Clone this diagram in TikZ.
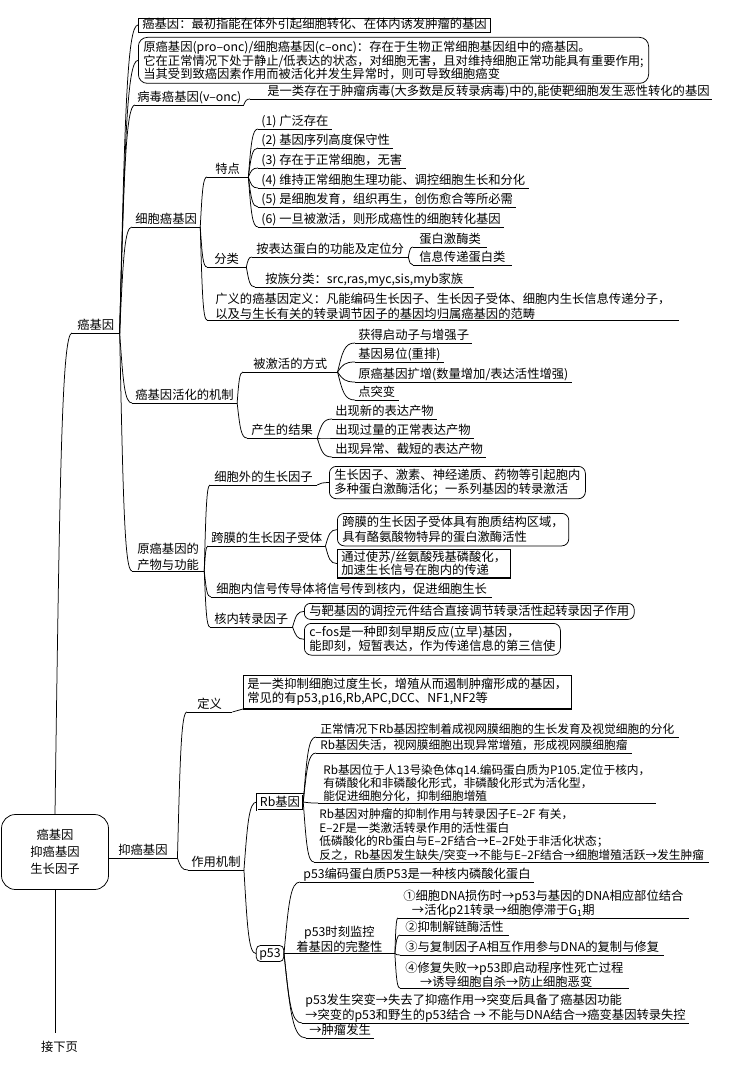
\documentclass[tikz,border=0pt]{standalone}
\usepackage{fontspec}
\setmainfont{Noto Sans CJK SC}
\usetikzlibrary{calc}
\newcommand\fs{\fontsize{12.3pt}{14pt}\selectfont}
\newcommand\fsl[1]{\fontsize{12.3pt}{#1pt}\selectfont}
\newcommand\fsr[1]{\fontsize{11.7pt}{#1pt}\selectfont}
\tikzset{
  lab/.style={anchor=south west,inner xsep=#1,inner ysep=1pt,text height=10pt,text depth=2pt},
  lab/.default=3pt,
  mlab/.style={anchor=south west,align=left,inner xsep=3pt,inner ysep=0.5pt},
  one/.style={text height=10pt,text depth=2pt},
  rbox/.style={draw,rounded corners=7pt,align=left,inner xsep=5pt},
  sbox/.style={draw,align=left,inner xsep=4pt},
  br/.style={to path={let \p1=(\tikztostart),\p2=(\tikztotarget),\n1={0.6*(\x2-\x1)} in .. controls ($(\p1)!0.7!(\p2)+(-0.7*\n1,0)$) and ($(\p2)+(-\n1,0)$) .. (\p2)}}
}
\begin{document}
\begin{tikzpicture}[x=1pt,y=-1pt,line width=0.75pt,every node/.style={font=\fs}]
\path[fill=white] (0,0) rectangle (731,1067);
\useasboundingbox (0,0) rectangle (731,1067);

% root
\node[draw,rounded corners=14pt,minimum width=107pt,minimum height=75pt,align=center,font=\fsl{17}] (root) at (55,852) {癌基因\\抑癌基因\\生长因子};
\node[anchor=north,one,inner ysep=8pt] (jx) at (59.5,1033) {接下页};

% ===== 癌基因 =====
\node[lab=5pt] (ai) at (72,333) {癌基因};
\node[sbox,one,inner ysep=1pt,anchor=west] (t1) at (138,25) {癌基因：最初指能在体外引起细胞转化、在体内诱发肿瘤的基因};
\node[rbox,anchor=north west,inner ysep=3.5pt,font=\fsl{13},rounded corners=9pt] (t2) at (138,37) {原癌基因(pro–onc)/细胞癌基因(c–onc)：存在于生物正常细胞基因组中的癌基因。\\它在正常情况下处于静止/低表达的状态，对细胞无害，且对维持细胞正常功能具有重要作用;\\当其受到致癌因素作用而被活化并发生异常时，则可导致细胞癌变};
\node[lab=2pt] (bv) at (135,105) {病毒癌基因(v–onc)};
\node[lab=2pt] (vdef) at (250,99) {\hspace*{15pt}是一类存在于肿瘤病毒(大多数是反转录病毒)中的,能使靶细胞发生恶性转化的基因};
\node[lab] (bx) at (132,227) {细胞癌基因};
\node[lab] (bj) at (132,403) {癌基因活化的机制};
\node[mlab,font=\fsl{16},inner ysep=0pt,inner xsep=5pt] (bc) at (132,571) {原癌基因的\\产物与功能};

% 细胞癌基因
\node[lab=8pt] (td) at (207,177) {特点};
\node[lab] (f1) at (258,129) {(1) 广泛存在};
\node[lab] (f2) at (258,148) {(2) 基因序列高度保守性};
\node[lab] (f3) at (258,168) {(3) 存在于正常细胞，无害};
\node[lab] (f4) at (258,188) {(4) 维持正常细胞生理功能、调控细胞生长和分化};
\node[lab] (f5) at (258,207) {(5) 是细胞发育，组织再生，创伤愈合等所必需};
\node[lab] (f6) at (258,227) {(6) 一旦被激活，则形成癌性的细胞转化基因};
\node[lab=7pt] (fl) at (207,267) {分类};
\node[lab=4pt] (fa) at (252,257) {按表达蛋白的功能及定位分};
\node[lab=6pt] (fa1) at (413,247) {蛋白激酶类};
\node[lab=6pt] (fa2) at (413,265) {信息传递蛋白类};
\node[lab=10pt] (fb) at (255,287) {按族分类：src,ras,myc,sis,myb家族};
\node[mlab,font=\fsl{15},inner xsep=8pt] (gy) at (207,320) {广义的癌基因定义：凡能编码生长因子、生长因子受体、细胞内生长信息传递分子，\\以及与生长有关的转录调节因子的基因均归属癌基因的范畴};

% 癌基因活化的机制
\node[lab=10pt] (jw) at (243,372) {被激活的方式};
\node[lab] (j1) at (355,343) {获得启动子与增强子};
\node[lab] (j2) at (355,362) {基因易位(重排)};
\node[lab] (j3) at (355,382) {原癌基因扩增(数量增加/表达活性增强)};
\node[lab] (j4) at (355,400) {点突变};
\node[lab=4pt] (jr) at (247,438) {产生的结果};
\node[lab] (r1) at (332,419) {出现新的表达产物};
\node[lab] (r2) at (332,438) {出现过量的正常表达产物};
\node[lab] (r3) at (332,457) {出现异常、截短的表达产物};

% 原癌基因的产物与功能
\node[lab=4pt] (c1) at (210,485) {细胞外的生长因子};
\node[rbox,anchor=north west,inner ysep=3pt,font=\fsl{14}] (cb1) at (329,466) {生长因子、激素、神经递质、药物等引起胞内\\多种蛋白激酶活化；一系列基因的转录激活};
\node[lab=3pt] (c2) at (208,546) {跨膜的生长因子受体};
\node[rbox,anchor=north west,inner ysep=3pt,font=\fsl{15}] (cb2) at (337,513) {跨膜的生长因子受体具有胞质结构区域，\\具有酪氨酸物特异的蛋白激酶活性};
\node[sbox,anchor=north west,inner ysep=2pt,font=\fsl{13}] (cb3) at (337,549) {通过使苏/丝氨酸残基磷酸化，\\加速生长信号在胞内的传递};
\node[lab=5pt] (c3) at (211,597) {细胞内信号传导体将信号传到核内，促进细胞生长};
\node[lab=4pt] (c4) at (210,627) {核内转录因子};
\node[rbox,one,anchor=north west,inner ysep=2pt,rounded corners=6pt] (cb4) at (304,603) {与靶基因的调控元件结合直接调节转录活性起转录因子作用};
\node[rbox,anchor=north west,inner ysep=3pt,font=\fsl{14}] (cb5) at (304,623) {c–fos是一种即刻早期反应(立早)基因，\\能即刻，短暂表达，作为传递信息的第三信使};

% ===== 抑癌基因 =====
\node[lab=9.5pt] (yi) at (108.5,858) {抑癌基因};
\node[lab=10pt] (yd) at (187,712) {定义};
\node[sbox,anchor=north west,inner ysep=3pt,font=\fsl{14}] (ydb) at (243,675) {是一类抑制细胞过度生长，增殖从而遏制肿瘤形成的基因，\\常见的有p53,p16,Rb,APC,DCC、NF1,NF2等};
\node[lab] (ym) at (188,870) {作用机制};
\node[draw,line width=0.5pt,double,double distance=0.7pt,one,inner xsep=3pt,inner ysep=2pt] (rb) at (280,802) {Rb基因};
\node[draw,rounded corners=4pt,one,inner xsep=3pt,inner ysep=2pt] (p53) at (270,953.5) {p53};

\node[lab=4pt,font=\fsr{14}] (rb1) at (316,737) {正常情况下Rb基因控制着成视网膜细胞的生长发育及视觉细胞的分化};
\node[lab=4pt,font=\fsr{14}] (rb2) at (316,753) {Rb基因失活，视网膜细胞出现异常增殖，形成视网膜细胞瘤};
\node[mlab,font=\fsr{13},inner xsep=5pt] (rb3) at (318,803) {Rb基因位于人13号染色体q14.编码蛋白质为P105.定位于核内，\\有磷酸化和非磷酸化形式，非磷酸化形式为活化型，\\能促进细胞分化，抑制细胞增殖};
\node[mlab,font=\fsr{13.5},inner xsep=5pt] (rb4) at (314,862) {Rb基因对肿瘤的抑制作用与转录因子E–2F 有关，\\E–2F是一类激活转录作用的活性蛋白\\低磷酸化的Rb蛋白与E–2F结合→E–2F处于非活化状态；\\反之，Rb基因发生缺失/突变→不能与E–2F结合→细胞增殖活跃→发生肿瘤};

\node[lab] (pa) at (300,882) {p53编码蛋白质P53是一种核内磷酸化蛋白};
\node[mlab,align=center,font=\fsl{15},inner xsep=12pt] (pm) at (p53.east) {p53时刻监控\\着基因的完整性};
\node[mlab,font=\fsl{13},inner ysep=0pt,inner xsep=5pt] (q1) at (398,918) {①细胞DNA损伤时→p53与基因的DNA相应部位结合\\\hspace*{0.7em}→活化p21转录→细胞停滞于G\textsubscript{1}期};
\node[lab=5pt] (q2) at (400,935) {②抑制解链酶活性};
\node[lab=5pt] (q3) at (400,955) {③与复制因子A相互作用参与DNA的复制与修复};
\node[mlab,font=\fsl{14},inner ysep=0pt,inner xsep=5pt] (q4) at (400,988) {④修复失败→p53即启动程序性死亡过程\\\hspace*{1.2em}→诱导细胞自杀→防止细胞恶变};
\node[mlab,font=\fsl{15}] (ps) at (302,1023) {p53发生突变→失去了抑癌作用→突变后具备了癌基因功能\\→突变的p53和野生的p53结合 → 不能与DNA结合→癌变基因转录失控};
\node[lab] (pt) at (306,1038) {→肿瘤发生};

% underlines
\foreach \nd in {ai,bv,vdef,bx,bj,bc,td,f1,f2,f3,f4,f5,f6,fl,fa,fa1,fa2,fb,gy,jw,j1,j2,j3,j4,jr,r1,r2,r3,c1,c2,c3,c4,yi,yd,ym,rb1,rb2,rb3,rb4,pa,pm,q1,q2,q3,q4,ps,pt}
  \draw (\nd.south west) -- (\nd.south east);

% shadows
\draw[line width=1.5pt] (ydb.north east) -- (ydb.south east) -- (ydb.south west);
\draw[line width=1.3pt] (cb3.north east) -- (cb3.south east) -- (cb3.south west);

% connectors
\draw (root.north) to[br] (ai.south west);
\draw (root.south) -- (root.south |- jx.north);
\foreach \nd in {t1.west,t2.west,bv.south west,bx.south west,bj.south west,bc.south west}
  \draw (ai.south east) to[br] (\nd);
\draw (bv.south east) to[br] (vdef.south west);
\foreach \nd in {td,fl,gy} \draw (bx.south east) to[br] (\nd.south west);
\foreach \nd in {f1,f2,f3,f4,f5,f6} \draw (td.south east) to[br] (\nd.south west);
\foreach \nd in {fa,fb} \draw (fl.south east) to[br] (\nd.south west);
\foreach \nd in {fa1,fa2} \draw (fa.south east) to[br] (\nd.south west);
\foreach \nd in {jw,jr} \draw (bj.south east) to[br] (\nd.south west);
\foreach \nd in {j1,j2,j3,j4} \draw (jw.south east) to[br] (\nd.south west);
\foreach \nd in {r1,r2,r3} \draw (jr.south east) to[br] (\nd.south west);
\foreach \nd in {c1,c2,c3,c4} \draw (bc.south east) to[br] (\nd.south west);
\draw (c1.south east) to[br] (cb1.west);
\draw (c2.south east) to[br] (cb2.west);
\draw (c2.south east) to[br] (cb3.west);
\draw (c4.south east) to[br] (cb4.west);
\draw (c4.south east) to[br] (cb5.west);
\foreach \nd in {yd,ym} \draw (yi.south east) to[br] (\nd.south west);
\draw (yd.south east) -- (ydb.south west);
\draw (ym.south east) to[br] (rb.west);
\draw (ym.south east) to[br] (p53.west);
\foreach \nd in {rb1,rb2,rb3,rb4} \draw (rb.east) to[br] (\nd.south west);
\foreach \nd in {pa,ps,pt} \draw (p53.east) to[br] (\nd.south west);
\foreach \nd in {q1,q2,q3,q4} \draw (pm.south east) to[br] (\nd.south west);
\end{tikzpicture}
\end{document}
